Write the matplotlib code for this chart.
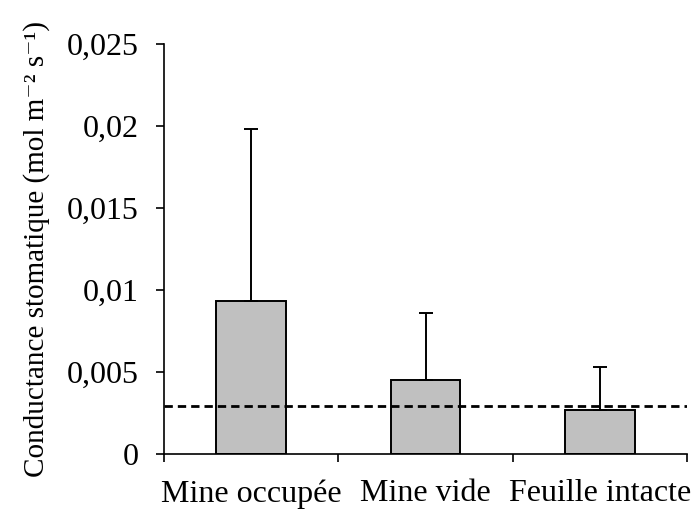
import matplotlib.pyplot as plt
import numpy as np

plt.rcParams['font.family'] = ['Liberation Serif', 'DejaVu Serif']

categories = ['Mine occupée', 'Mine vide', 'Feuille intacte']
conductance = [0.00935, 0.0045, 0.0027]
errors = [0.0198 - 0.00935, 0.0086 - 0.0045, 0.0053 - 0.0027]
reference_level = 0.0029
yticks = [0, 0.005, 0.01, 0.015, 0.02, 0.025]
ytick_labels = ['0', '0,005', '0,01', '0,015', '0,02', '0,025']

fig = plt.figure(figsize=(6.93, 5.15), dpi=100)
ax = fig.add_axes([0.2367, 0.1184, 0.7546, 0.7962])

x = np.arange(len(categories))
ax.bar(x, conductance, width=0.40, color='#c0c0c0', edgecolor='black',
       linewidth=1.4, zorder=2)
ax.errorbar(x, conductance, yerr=[np.zeros(len(x)), errors], fmt='none',
            ecolor='black', elinewidth=1.4, capsize=5, capthick=1.4, zorder=3)
ax.axhline(reference_level, color='black', linestyle=(0, (3, 1.8)),
           linewidth=2.0, zorder=4)

ax.set_xlim(-0.5, 2.5)
ax.set_ylim(0, 0.025)

# category labels centred under bars, tick marks on the boundaries
ax.set_xticks(x)
ax.set_xticklabels(categories, fontsize=23)
ax.tick_params(axis='x', which='major', length=0, pad=18)
ax.set_xticks([-0.5, 0.5, 1.5, 2.5], minor=True)
ax.tick_params(axis='x', which='minor', length=6, width=1.2, direction='out')

ax.set_yticks(yticks)
ax.set_yticklabels(ytick_labels, fontsize=23)
ax.tick_params(axis='y', length=6, width=1.2, direction='out', pad=12)

for side in ['top', 'right']:
    ax.spines[side].set_visible(False)
for side in ['left', 'bottom']:
    ax.spines[side].set_linewidth(1.2)

ax.set_ylabel('Conductance stomatique (mol m⁻² s⁻¹)', fontsize=21, labelpad=12)

fig.savefig('out.png', dpi=100)
